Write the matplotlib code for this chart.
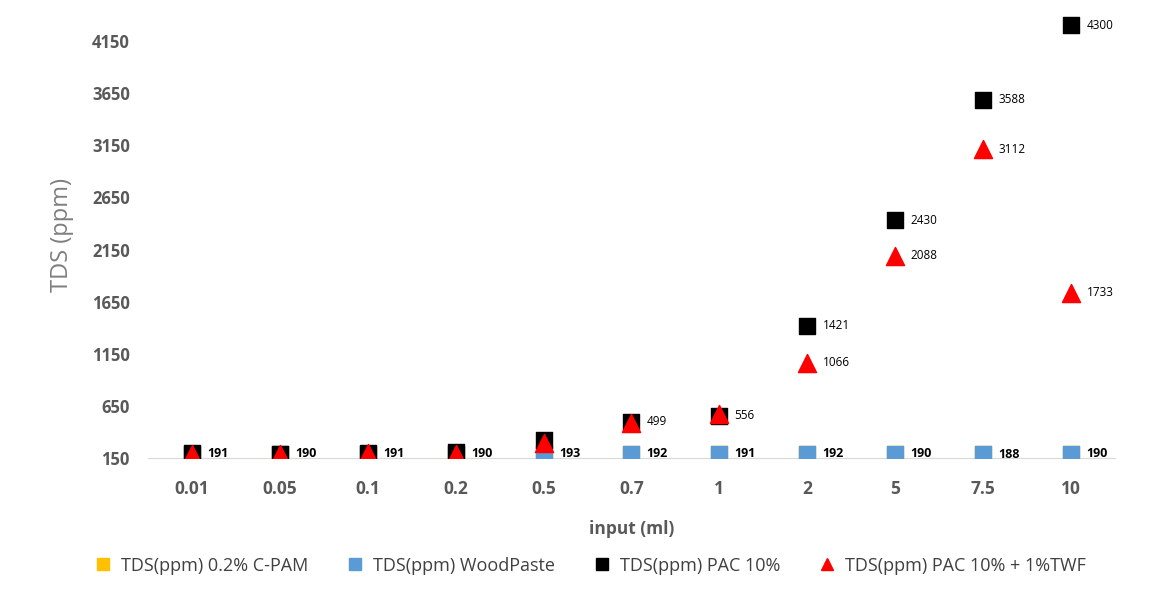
import matplotlib
matplotlib.use("Agg")
import matplotlib.pyplot as plt
from matplotlib.lines import Line2D

plt.rcParams['font.family'] = ['Open Sans', 'DejaVu Sans']

categories = ["0.01", "0.05", "0.1", "0.2", "0.5", "0.7", "1", "2", "5", "7.5", "10"]
cpam = [190, 190, 190, 190, 192, 191, 190, 191, 190, 189, 190]
woodpaste = [191, 190, 191, 190, 193, 192, 191, 192, 190, 188, 190]
pac10 = [195, 192, 196, 210, 327, 499, 556, 1421, 2430, 3588, 4300]
pac_twf = [191, 190, 196, 193, 290, 485, 575, 1066, 2088, 3112, 1733]

woodpaste_labels = [True] * 11
pac10_labels = [False, False, False, False, False, True, True, True, True, True, True]
pac_twf_labels = [False, False, False, False, False, False, False, True, True, True, True]

yticks = [150, 650, 1150, 1650, 2150, 2650, 3150, 3650, 4150]

fig = plt.figure(figsize=(11.64, 5.91), dpi=100)
ax = fig.add_axes([0.127, 0.225, 0.831, 0.755])
x = list(range(len(categories)))

ax.scatter(x, cpam, marker='s', s=130, color='#FFC000', zorder=2)
ax.scatter(x, woodpaste, marker='s', s=130, color='#5B9BD5', zorder=3)
ax.scatter(x, pac10, marker='s', s=130, color='#000000', zorder=4)
ax.scatter(x, pac_twf, marker='^', s=170, color='#FF0000', zorder=5)

for i in x:
    if woodpaste_labels[i]:
        ax.annotate(str(woodpaste[i]), (i, woodpaste[i]), xytext=(11, 0), textcoords='offset points',
                    va='center', ha='left', fontsize=9, fontweight='bold', color='#000000', zorder=6)
    if pac10_labels[i]:
        ax.annotate(str(pac10[i]), (i, pac10[i]), xytext=(11, 0), textcoords='offset points',
                    va='center', ha='left', fontsize=8.5, color='#000000', zorder=6)
    if pac_twf_labels[i]:
        ax.annotate(str(pac_twf[i]), (i, pac_twf[i]), xytext=(11, 0), textcoords='offset points',
                    va='center', ha='left', fontsize=8.5, color='#000000', zorder=6)

ax.set_xlim(-0.5, len(categories) - 0.5)
ax.set_ylim(150, 4430)
ax.set_xticks(x)
ax.set_xticklabels(categories, fontsize=12.5, fontweight='bold', color='#595959')
ax.set_yticks(yticks)
ax.set_yticklabels([str(t) for t in yticks], fontsize=12, fontweight='bold', color='#595959')
ax.tick_params(axis='x', length=0, pad=16)
ax.tick_params(axis='y', length=0, pad=13)
for s in ['top', 'right', 'left']:
    ax.spines[s].set_visible(False)
ax.spines['bottom'].set_color('#D9D9D9')
ax.set_xlabel('input (ml)', fontsize=12.5, fontweight='bold', color='#595959', labelpad=16)
ax.set_ylabel('TDS (ppm)', fontsize=17, color='#7F7F7F', labelpad=13)

handles = [
    Line2D([], [], marker='s', linestyle='none', color='#FFC000', markersize=8),
    Line2D([], [], marker='s', linestyle='none', color='#5B9BD5', markersize=8),
    Line2D([], [], marker='s', linestyle='none', color='#000000', markersize=8),
    Line2D([], [], marker='^', linestyle='none', color='#FF0000', markersize=9),
]
labels = ["TDS(ppm) 0.2% C-PAM", "TDS(ppm) WoodPaste", "TDS(ppm) PAC 10%", "TDS(ppm) PAC 10% + 1%TWF"]
fig.legend(handles, labels, loc='center', bbox_to_anchor=(0.503, 0.043), ncol=4, frameon=False,
           fontsize=13, handletextpad=0.0, columnspacing=1.6, labelcolor='#404040')

fig.savefig('out.png', dpi=100)
